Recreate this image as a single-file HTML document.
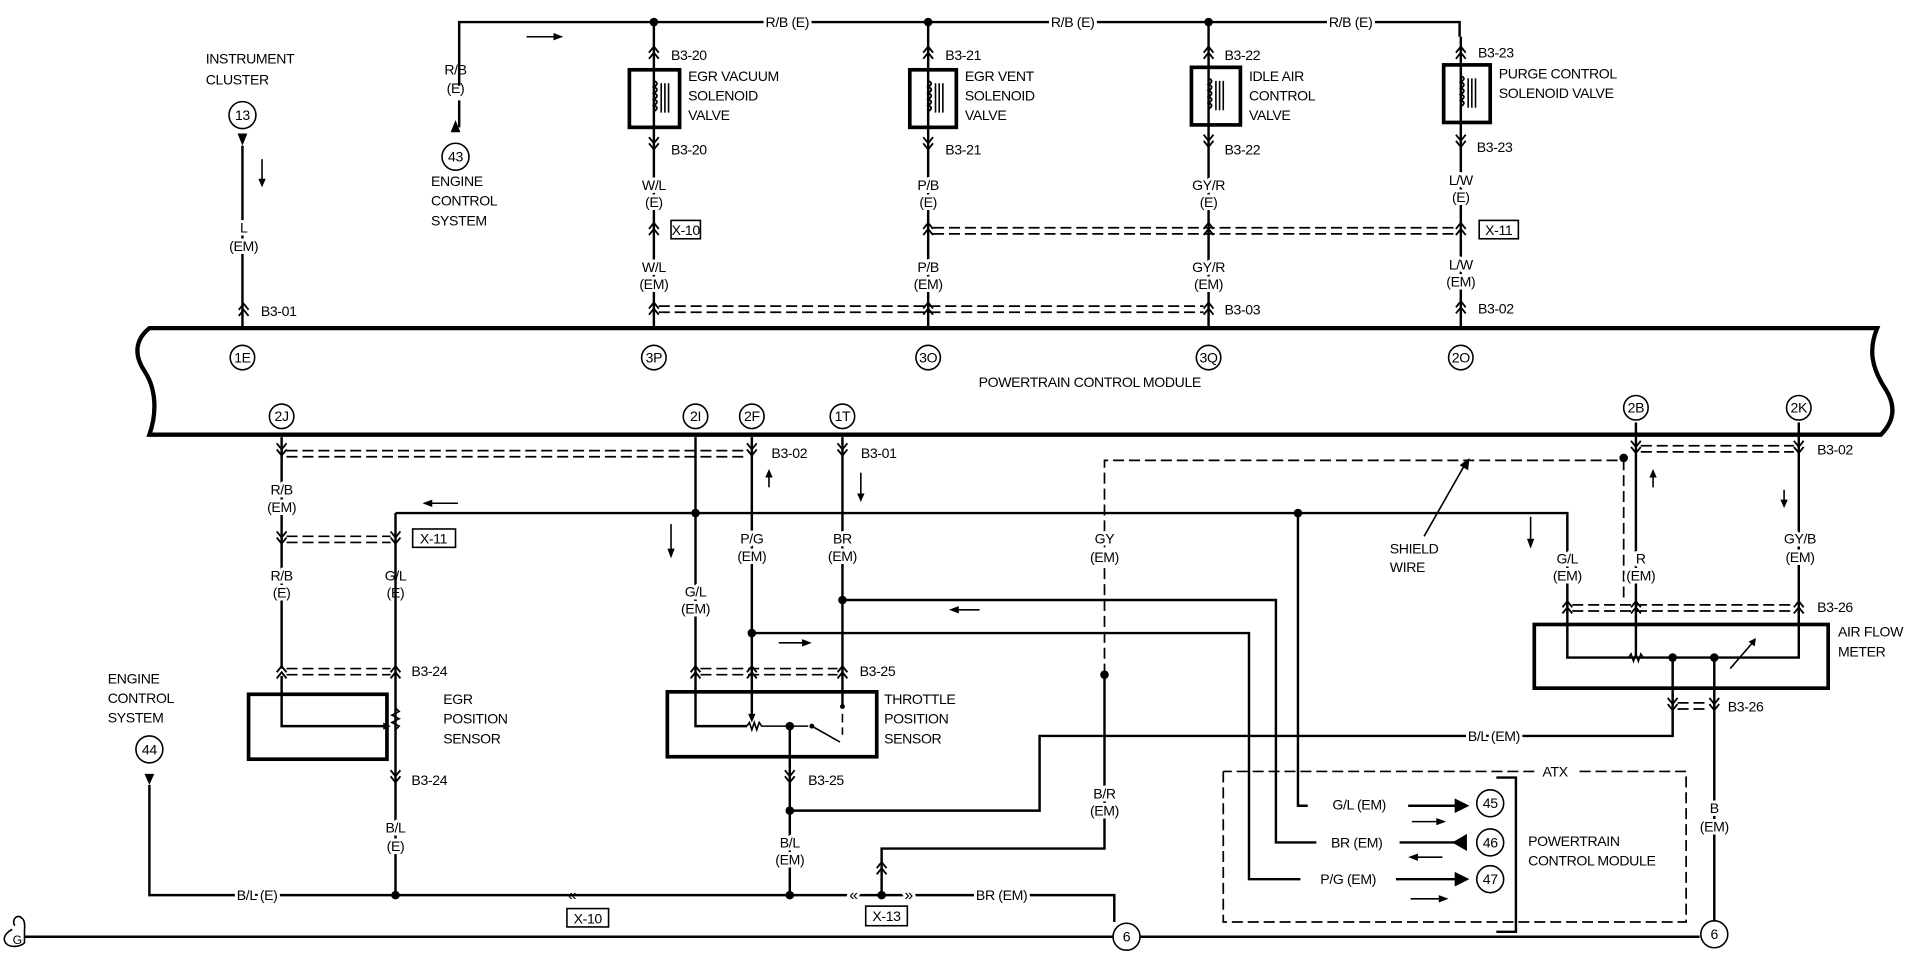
<!DOCTYPE html>
<html><head><meta charset="utf-8"><style>
html,body{margin:0;padding:0;background:#fff;}
svg{display:block;}
text{font-family:"Liberation Sans",sans-serif;font-size:11.5px;fill:#000;letter-spacing:-0.3px;}
.w{stroke:#000;stroke-width:2;fill:none;}
.t{stroke:#000;stroke-width:1.3;fill:none;}
.b{stroke:#000;stroke-width:3;fill:none;}
.d{stroke:#000;stroke-width:1.4;fill:none;stroke-dasharray:9 4;}
.bg{paint-order:stroke;stroke:#fff;stroke-width:5px;stroke-linejoin:round;}
.c{text-anchor:middle;}
</style></head><body>
<svg width="1920" height="960" viewBox="0 0 1568 784" xmlns="http://www.w3.org/2000/svg">
<defs>
<g id="cu"><path d="M-4,3 L0,-2 L4,3 M-4,8 L0,3 L4,8" stroke="#000" stroke-width="1.5" fill="none"/></g>
<g id="cd"><path d="M-4,-3 L0,2 L4,-3 M-4,-8 L0,-3 L4,-8" stroke="#000" stroke-width="1.5" fill="none"/></g>
<g id="dot"><circle r="3.5" fill="#000"/></g>
<g id="coil"><path d="M0,-20 L0,-14 q5,2 0,5 q5,2 0,5 q5,2 0,5 q5,2 0,5 q5,2 0,5 L0,20" stroke="#000" stroke-width="1.5" fill="none"/><path d="M6,-12 V12 M9,-12 V12 M12,-12 V12" stroke="#000" stroke-width="1.3"/></g>
</defs>

<!-- top bus -->
<path class="w" d="M375,70 V18 H1192 V30"/>
<path class="w" d="M375,82 V104"/>
<polygon points="368,108 376,108 372,98" fill="#000"/>
<circle cx="372" cy="128" r="11" class="t"/><text x="372" y="132" class="c">43</text>
<text x="372" y="61" class="c">R/B</text><text x="372" y="76" class="c">(E)</text>
<text x="352" y="152">ENGINE</text><text x="352" y="168">CONTROL</text><text x="352" y="184">SYSTEM</text>
<path class="t" d="M430,30 H452"/><polygon points="452,27 460,30 452,33" fill="#000"/>
<use href="#dot" x="534" y="18"/><use href="#dot" x="758" y="18"/><use href="#dot" x="987" y="18"/>
<text x="643" y="22" class="c bg">R/B (E)</text><text x="876" y="22" class="c bg">R/B (E)</text><text x="1103" y="22" class="c bg">R/B (E)</text>

<!-- instrument cluster -->
<text x="168" y="52">INSTRUMENT</text><text x="168" y="69">CLUSTER</text>
<circle cx="198" cy="94" r="11" class="t"/><text x="198" y="98" class="c">13</text>
<polygon points="194,109 202,109 198,119" fill="#000"/>
<path class="w" d="M198,119 V268"/>
<path class="t" d="M214,130 V148"/><polygon points="211,146 217,146 214,153" fill="#000"/>
<text x="199" y="190" class="c bg">L</text><text x="199" y="205" class="c bg">(EM)</text>
<use href="#cu" x="199" y="250"/><text x="213" y="258">B3-01</text>

<!-- solenoid columns -->
<g>
<path class="w" d="M534,18 V268"/>
<use href="#cu" x="534" y="40"/><text x="548" y="49">B3-20</text>
<rect x="514" y="57" width="41" height="47" fill="#fff" class="b"/><use href="#coil" x="534" y="80"/>
<text x="562" y="66">EGR VACUUM</text><text x="562" y="82">SOLENOID</text><text x="562" y="98">VALVE</text>
<use href="#cd" x="534" y="120"/><text x="548" y="126">B3-20</text>
<text x="534" y="155" class="c bg">W/L</text><text x="534" y="169" class="c bg">(E)</text>
<use href="#cu" x="534" y="184"/><rect x="548" y="180" width="24" height="15" class="t"/><text x="560" y="192" class="c">X-10</text>
<text x="534" y="222" class="c bg">W/L</text><text x="534" y="236" class="c bg">(EM)</text>
<use href="#cu" x="534" y="249"/>
</g>
<g>
<path class="w" d="M758,18 V268"/>
<use href="#cu" x="758" y="40"/><text x="772" y="49">B3-21</text>
<rect x="743" y="57" width="38" height="47" fill="#fff" class="b"/><use href="#coil" x="758" y="80"/>
<text x="788" y="66">EGR VENT</text><text x="788" y="82">SOLENOID</text><text x="788" y="98">VALVE</text>
<use href="#cd" x="758" y="120"/><text x="772" y="126">B3-21</text>
<text x="758" y="155" class="c bg">P/B</text><text x="758" y="169" class="c bg">(E)</text>
<use href="#cu" x="758" y="184"/>
<text x="758" y="222" class="c bg">P/B</text><text x="758" y="236" class="c bg">(EM)</text>
<use href="#cu" x="758" y="249"/>
</g>
<g>
<path class="w" d="M987,18 V268"/>
<use href="#cu" x="987" y="40"/><text x="1000" y="49">B3-22</text>
<rect x="973" y="55" width="40" height="47" fill="#fff" class="b"/><use href="#coil" x="987" y="78"/>
<text x="1020" y="66">IDLE AIR</text><text x="1020" y="82">CONTROL</text><text x="1020" y="98">VALVE</text>
<use href="#cd" x="987" y="118"/><text x="1000" y="126">B3-22</text>
<text x="987" y="155" class="c bg">GY/R</text><text x="987" y="169" class="c bg">(E)</text>
<use href="#cu" x="987" y="184"/>
<text x="987" y="222" class="c bg">GY/R</text><text x="987" y="236" class="c bg">(EM)</text>
<use href="#cu" x="987" y="249"/><text x="1000" y="257">B3-03</text>
</g>
<g>
<path class="w" d="M1193,30 V268"/>
<use href="#cu" x="1193" y="40"/><text x="1207" y="47">B3-23</text>
<rect x="1179" y="53" width="38" height="47" fill="#fff" class="b"/><use href="#coil" x="1193" y="76"/>
<text x="1224" y="64">PURGE CONTROL</text><text x="1224" y="80">SOLENOID VALVE</text>
<use href="#cd" x="1193" y="118"/><text x="1206" y="124">B3-23</text>
<text x="1193" y="151" class="c bg">L/W</text><text x="1193" y="165" class="c bg">(E)</text>
<use href="#cu" x="1193" y="184"/><rect x="1208" y="180" width="32" height="15" class="t"/><text x="1224" y="192" class="c">X-11</text>
<text x="1193" y="220" class="c bg">L/W</text><text x="1193" y="234" class="c bg">(EM)</text>
<use href="#cu" x="1193" y="248"/><text x="1207" y="256">B3-02</text>
</g>
<path class="d" d="M762,186 H1188 M762,191 H1188"/>
<path class="d" d="M538,250 H983 M538,255 H983"/>

<!-- PCM -->
<path d="M122,268 L1533,268 C1526,285 1528,300 1540,318 C1550,334 1545,346 1536,355 L122,355 C128,338 128,318 118,303 C108,288 112,276 122,268 Z" fill="#fff" stroke="#000" stroke-width="3.5"/>
<g>
<circle cx="198" cy="292" r="10" class="t"/><text x="198" y="296" class="c">1E</text>
<circle cx="534" cy="292" r="10" class="t"/><text x="534" y="296" class="c">3P</text>
<circle cx="758" cy="292" r="10" class="t"/><text x="758" y="296" class="c">3O</text>
<circle cx="987" cy="292" r="10" class="t"/><text x="987" y="296" class="c">3Q</text>
<circle cx="1193" cy="292" r="10" class="t"/><text x="1193" y="296" class="c">2O</text>
<text x="890" y="316" class="c">POWERTRAIN CONTROL MODULE</text>
<circle cx="230" cy="340" r="10" class="t"/><text x="230" y="344" class="c">2J</text>
<circle cx="568" cy="340" r="10" class="t"/><text x="568" y="344" class="c">2I</text>
<circle cx="614" cy="340" r="10" class="t"/><text x="614" y="344" class="c">2F</text>
<circle cx="688" cy="340" r="10" class="t"/><text x="688" y="344" class="c">1T</text>
<circle cx="1336" cy="333" r="10" class="t"/><text x="1336" y="337" class="c">2B</text>
<circle cx="1469" cy="333" r="10" class="t"/><text x="1469" y="337" class="c">2K</text>
</g>

<!-- EGR position -->
<path class="w" d="M230,357 V546"/>
<use href="#cd" x="230" y="370"/><path class="d" d="M234,368 H610 M234,373 H610"/>
<text x="230" y="404" class="c bg">R/B</text><text x="230" y="418" class="c bg">(EM)</text>
<use href="#cd" x="230" y="442"/><use href="#cd" x="323" y="442"/><path class="d" d="M234,438 H319 M234,443 H319"/>
<rect x="337" y="432" width="35" height="15" class="t"/><text x="354" y="444" class="c">X-11</text>
<text x="230" y="474" class="c bg">R/B</text><text x="230" y="488" class="c bg">(E)</text>
<text x="323" y="474" class="c bg">G/L</text><text x="323" y="488" class="c bg">(E)</text>
<path class="w" d="M323,419 V731"/>
<path class="w" d="M323,419 H1280 V490"/>
<path class="t" d="M352,411 H374"/><polygon points="353,408 345,411 353,414" fill="#000"/>
<use href="#cu" x="230" y="546"/><use href="#cu" x="323" y="546"/><path class="d" d="M234,546 H319 M234,551 H319"/><text x="336" y="552">B3-24</text>
<rect x="203" y="567" width="113" height="53" class="b" fill="none"/>
<path class="w" d="M230,552 V593 H316"/>
<path class="t" d="M323,578 l3,3 l-6,3 l6,3 l-6,3 l6,3 l-3,3"/>
<polygon points="313,590 319,593 313,596" fill="#000"/>
<text x="362" y="575">EGR</text><text x="362" y="591">POSITION</text><text x="362" y="607">SENSOR</text>
<use href="#cd" x="323" y="637"/><text x="336" y="641">B3-24</text>
<text x="323" y="680" class="c bg">B/L</text><text x="323" y="695" class="c bg">(E)</text>

<!-- engine control 44 -->
<text x="88" y="558">ENGINE</text><text x="88" y="574">CONTROL</text><text x="88" y="590">SYSTEM</text>
<circle cx="122" cy="612" r="11" class="t"/><text x="122" y="616" class="c">44</text>
<polygon points="118,632 126,632 122,641" fill="#000"/>
<path class="w" d="M122,641 V731 H910 V753"/>
<text x="210" y="735" class="c bg">B/L (E)</text>
<use href="#dot" x="323" y="731"/><use href="#dot" x="645" y="731"/><use href="#dot" x="720" y="731"/>
<text x="467" y="735" class="c" style="font-size:13px">«</text>
<rect x="463" y="742" width="34" height="15" class="t"/><text x="480" y="754" class="c">X-10</text>
<text x="697" y="735" class="c bg" style="font-size:13px">«</text><text x="742" y="735" class="c bg" style="font-size:13px">»</text>
<rect x="707" y="740" width="34" height="16" class="t"/><text x="724" y="752" class="c">X-13</text>
<text x="818" y="735" class="c bg">BR (EM)</text>

<!-- TPS -->
<path class="w" d="M568,357 V593 H610"/>
<use href="#dot" x="568" y="419"/>
<path class="t" d="M548,428 V450"/><polygon points="545,448 551,448 548,456" fill="#000"/>
<text x="568" y="487" class="c bg">G/L</text><text x="568" y="501" class="c bg">(EM)</text>
<path class="w" d="M614,357 V585"/><polygon points="611,583 617,583 614,590" fill="#000"/>
<use href="#cd" x="614" y="370"/><text x="630" y="374">B3-02</text>
<path class="t" d="M628,388 V398"/><polygon points="625,390 631,390 628,383" fill="#000"/>
<text x="614" y="444" class="c bg">P/G</text><text x="614" y="458" class="c bg">(EM)</text>
<use href="#dot" x="614" y="517"/><path class="w" d="M614,517 H1020 V718 H1062"/>
<path class="t" d="M636,525 H656"/><polygon points="655,522 663,525 655,528" fill="#000"/>
<path class="w" d="M688,357 V577"/>
<use href="#cd" x="688" y="370"/><text x="703" y="374">B3-01</text>
<path class="t" d="M703,386 V404"/><polygon points="700,403 706,403 703,410" fill="#000"/>
<text x="688" y="444" class="c bg">BR</text><text x="688" y="458" class="c bg">(EM)</text>
<use href="#dot" x="688" y="490"/><path class="w" d="M688,490 H1042 V688 H1075"/>
<path class="t" d="M782,498 H800"/><polygon points="783,495 775,498 783,501" fill="#000"/>
<use href="#cu" x="568" y="546"/><use href="#cu" x="614" y="546"/><use href="#cu" x="688" y="546"/>
<path class="d" d="M572,546 H684 M572,551 H684"/><text x="702" y="552">B3-25</text>
<rect x="545" y="565" width="171" height="53" class="b" fill="none"/>
<path class="t" d="M610,593 l2,-3 l2,6 l2,-6 l2,6 l2,-6 l2,3 H660"/>
<use href="#dot" x="645" y="593"/><circle cx="663" cy="593" r="2" fill="#000"/>
<path class="t" d="M663,593 L686,606"/><circle cx="688" cy="577" r="2" fill="#000"/><path class="t" d="M688,583 V590 M688,594 V600"/>
<path class="w" d="M645,593 V731"/>
<text x="722" y="575">THROTTLE</text><text x="722" y="591">POSITION</text><text x="722" y="607">SENSOR</text>
<use href="#cd" x="645" y="637"/><text x="660" y="641">B3-25</text>
<use href="#dot" x="645" y="662"/><path class="w" d="M645,662 H849 V601 H1366 V578"/>
<text x="645" y="692" class="c bg">B/L</text><text x="645" y="706" class="c bg">(EM)</text>
<text x="1220" y="605" class="c bg">B/L (EM)</text>

<!-- X-13 / B/R -->
<path class="w" d="M720,731 V693 H902 V551"/>
<use href="#cu" x="720" y="706"/>
<path class="d" d="M902,551 V376 H1326 V490"/>
<use href="#dot" x="902" y="551"/><use href="#dot" x="1326" y="374"/>
<text x="902" y="444" class="c bg">GY</text><text x="902" y="459" class="c bg">(EM)</text>
<text x="902" y="652" class="c bg">B/R</text><text x="902" y="666" class="c bg">(EM)</text>
<use href="#dot" x="1060" y="419"/>
<path class="t" d="M1163,438 L1196,380"/><polygon points="1192,380 1200,374 1199,384" fill="#000"/>
<text x="1135" y="452">SHIELD</text><text x="1135" y="467">WIRE</text>

<!-- Air flow meter -->
<path class="w" d="M1336,345 V537"/><path class="w" d="M1469,345 V537 H1280 V490"/>
<use href="#cd" x="1336" y="368"/><use href="#cd" x="1469" y="368"/><path class="d" d="M1340,364 H1465 M1340,369 H1465"/><text x="1484" y="371">B3-02</text>
<path class="t" d="M1350,386 V398"/><polygon points="1347,390 1353,390 1350,383" fill="#000"/>
<path class="t" d="M1457,400 V410"/><polygon points="1454,408 1460,408 1457,415" fill="#000"/>
<path class="t" d="M1250,422 V442"/><polygon points="1247,440 1253,440 1250,448" fill="#000"/>
<text x="1280" y="460" class="c bg">G/L</text><text x="1280" y="474" class="c bg">(EM)</text>
<text x="1340" y="460" class="c bg">R</text><text x="1340" y="474" class="c bg">(EM)</text>
<text x="1470" y="444" class="c bg">GY/B</text><text x="1470" y="459" class="c bg">(EM)</text>
<use href="#cu" x="1280" y="493"/><use href="#cu" x="1336" y="493"/><use href="#cu" x="1469" y="493"/>
<path class="d" d="M1284,494 H1465 M1284,499 H1465"/><text x="1484" y="500">B3-26</text>
<rect x="1253" y="510" width="240" height="52" class="b" fill="none"/>
<path class="t" d="M1330,537 l2,-3 l2,6 l2,-6 l2,6 l2,-6 l2,3"/>
<path class="t" d="M1413,546 L1432,524"/><polygon points="1428,524 1434,521 1433,528" fill="#000"/>
<use href="#dot" x="1366" y="537"/><use href="#dot" x="1400" y="537"/>
<text x="1501" y="520">AIR FLOW</text><text x="1501" y="536">METER</text>
<path class="w" d="M1366,537 V578 M1400,537 V752"/>
<use href="#cd" x="1366" y="578"/><use href="#cd" x="1400" y="578"/><path class="d" d="M1370,574 H1396 M1370,579 H1396"/><text x="1411" y="581">B3-26</text>
<text x="1400" y="664" class="c bg">B</text><text x="1400" y="679" class="c bg">(EM)</text>

<!-- ATX -->
<path class="d" d="M999,630 V753 H1377 V630 H1290 M1253,630 H999" stroke-dasharray="8 5"/>
<text x="1270" y="634" class="c">ATX</text>
<path class="w" d="M1060,419 V658 H1068"/>
<text x="1110" y="661" class="c">G/L (EM)</text>
<path class="w" d="M1150,658 H1190"/><polygon points="1188,652 1200,658 1188,664" fill="#000"/>
<path class="t" d="M1153,671 H1174"/><polygon points="1173,668 1181,671 1173,674" fill="#000"/>
<circle cx="1217" cy="656" r="11" class="t"/><text x="1217" y="660" class="c">45</text>
<text x="1108" y="692" class="c">BR (EM)</text>
<path class="w" d="M1143,688 H1196"/><polygon points="1198,681 1186,688 1198,695" fill="#000"/>
<path class="t" d="M1157,700 H1178"/><polygon points="1158,697 1150,700 1158,703" fill="#000"/>
<circle cx="1217" cy="688" r="11" class="t"/><text x="1217" y="692" class="c">46</text>
<text x="1101" y="722" class="c">P/G (EM)</text>
<path class="w" d="M1140,718 H1190"/><polygon points="1188,712 1200,718 1188,724" fill="#000"/>
<path class="t" d="M1152,734 H1176"/><polygon points="1175,731 1183,734 1175,737" fill="#000"/>
<circle cx="1217" cy="718" r="11" class="t"/><text x="1217" y="722" class="c">47</text>
<path class="w" d="M1222,635 H1238 V761 H1222"/>
<text x="1248" y="691">POWERTRAIN</text><text x="1248" y="707">CONTROL MODULE</text>

<!-- ground -->
<path class="w" d="M20,765 H909 M931,765 H1388"/>
<circle cx="920" cy="765" r="11" class="t" stroke-width="2"/><text x="920" y="769" class="c">6</text>
<circle cx="1400" cy="763" r="11" class="t" stroke-width="2"/><text x="1400" y="767" class="c">6</text>
<path class="t" d="M12,756 c-3,-6 3,-10 6,-6 c3,2 2,8 2,10 v10 c-4,4 -14,4 -16,-1 c-2,-4 2,-8 6,-10" stroke-width="1.5"/>
<text x="14" y="771" class="c" style="font-size:10px">G</text>
</svg>
</body></html>
